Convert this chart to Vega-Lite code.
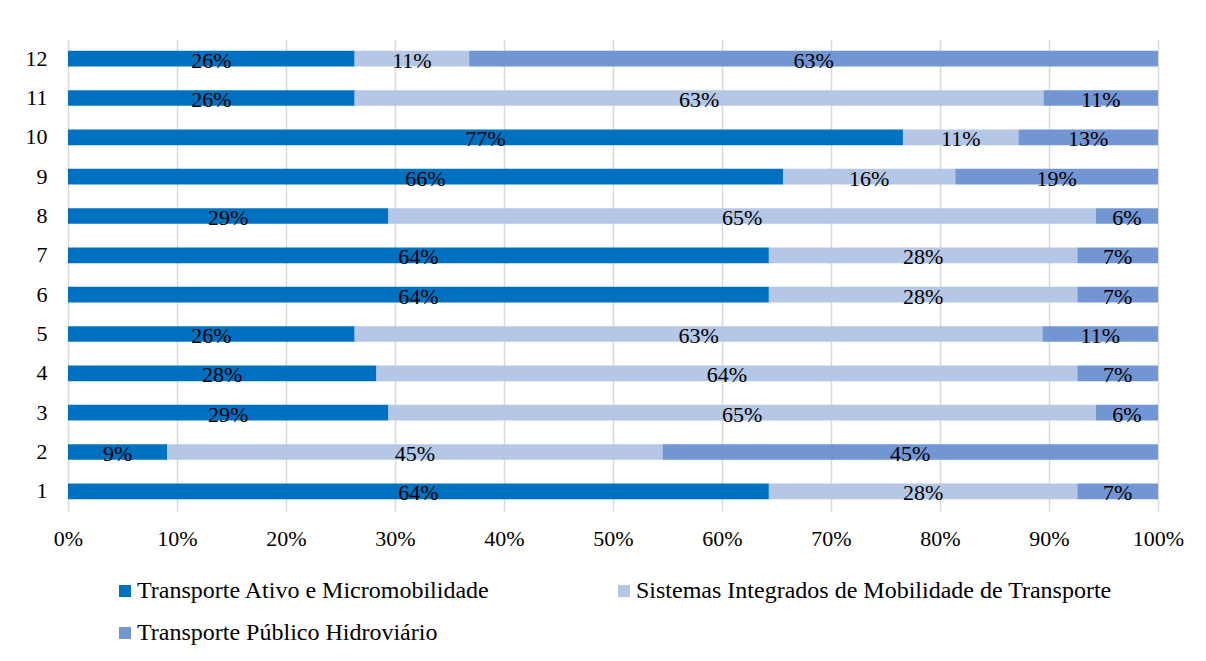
{
  "$schema": "https://vega.github.io/schema/vega-lite/v6.json",
  "width": 1090,
  "height": 472,
  "autosize": {"type": "none"},
  "padding": {"left": 68, "top": 39, "right": 48, "bottom": 150},
  "background": "white",
  "data": {
    "values": [
      {"row": 12, "k": 1, "serie": "Transporte Ativo e Micromobilidade", "value": 0.263},
      {"row": 12, "k": 2, "serie": "Sistemas Integrados de Mobilidade de Transporte", "value": 0.105},
      {"row": 12, "k": 3, "serie": "Transporte Público Hidroviário", "value": 0.632},
      {"row": 11, "k": 1, "serie": "Transporte Ativo e Micromobilidade", "value": 0.263},
      {"row": 11, "k": 2, "serie": "Sistemas Integrados de Mobilidade de Transporte", "value": 0.632},
      {"row": 11, "k": 3, "serie": "Transporte Público Hidroviário", "value": 0.105},
      {"row": 10, "k": 1, "serie": "Transporte Ativo e Micromobilidade", "value": 0.766},
      {"row": 10, "k": 2, "serie": "Sistemas Integrados de Mobilidade de Transporte", "value": 0.106},
      {"row": 10, "k": 3, "serie": "Transporte Público Hidroviário", "value": 0.128},
      {"row": 9, "k": 1, "serie": "Transporte Ativo e Micromobilidade", "value": 0.656},
      {"row": 9, "k": 2, "serie": "Sistemas Integrados de Mobilidade de Transporte", "value": 0.158},
      {"row": 9, "k": 3, "serie": "Transporte Público Hidroviário", "value": 0.186},
      {"row": 8, "k": 1, "serie": "Transporte Ativo e Micromobilidade", "value": 0.294},
      {"row": 8, "k": 2, "serie": "Sistemas Integrados de Mobilidade de Transporte", "value": 0.649},
      {"row": 8, "k": 3, "serie": "Transporte Público Hidroviário", "value": 0.057},
      {"row": 7, "k": 1, "serie": "Transporte Ativo e Micromobilidade", "value": 0.643},
      {"row": 7, "k": 2, "serie": "Sistemas Integrados de Mobilidade de Transporte", "value": 0.283},
      {"row": 7, "k": 3, "serie": "Transporte Público Hidroviário", "value": 0.074},
      {"row": 6, "k": 1, "serie": "Transporte Ativo e Micromobilidade", "value": 0.643},
      {"row": 6, "k": 2, "serie": "Sistemas Integrados de Mobilidade de Transporte", "value": 0.283},
      {"row": 6, "k": 3, "serie": "Transporte Público Hidroviário", "value": 0.074},
      {"row": 5, "k": 1, "serie": "Transporte Ativo e Micromobilidade", "value": 0.263},
      {"row": 5, "k": 2, "serie": "Sistemas Integrados de Mobilidade de Transporte", "value": 0.631},
      {"row": 5, "k": 3, "serie": "Transporte Público Hidroviário", "value": 0.106},
      {"row": 4, "k": 1, "serie": "Transporte Ativo e Micromobilidade", "value": 0.283},
      {"row": 4, "k": 2, "serie": "Sistemas Integrados de Mobilidade de Transporte", "value": 0.643},
      {"row": 4, "k": 3, "serie": "Transporte Público Hidroviário", "value": 0.074},
      {"row": 3, "k": 1, "serie": "Transporte Ativo e Micromobilidade", "value": 0.294},
      {"row": 3, "k": 2, "serie": "Sistemas Integrados de Mobilidade de Transporte", "value": 0.649},
      {"row": 3, "k": 3, "serie": "Transporte Público Hidroviário", "value": 0.057},
      {"row": 2, "k": 1, "serie": "Transporte Ativo e Micromobilidade", "value": 0.0909},
      {"row": 2, "k": 2, "serie": "Sistemas Integrados de Mobilidade de Transporte", "value": 0.4545},
      {"row": 2, "k": 3, "serie": "Transporte Público Hidroviário", "value": 0.4546},
      {"row": 1, "k": 1, "serie": "Transporte Ativo e Micromobilidade", "value": 0.643},
      {"row": 1, "k": 2, "serie": "Sistemas Integrados de Mobilidade de Transporte", "value": 0.283},
      {"row": 1, "k": 3, "serie": "Transporte Público Hidroviário", "value": 0.074}
    ]
  },
  "transform": [
    {"stack": "value", "groupby": ["row"], "sort": [{"field": "k", "order": "ascending"}], "as": ["v0", "v1"]},
    {"calculate": "(datum.v0 + datum.v1) / 2", "as": "mid"}
  ],
  "encoding": {
    "y": {
      "field": "row",
      "type": "ordinal",
      "scale": {"domain": [12, 11, 10, 9, 8, 7, 6, 5, 4, 3, 2, 1], "paddingInner": 0.6, "paddingOuter": 0.3},
      "axis": {"title": null, "ticks": false, "domain": false, "labelFont": "Liberation Serif", "labelFontSize": 22, "labelColor": "#000000", "labelPadding": 21}
    }
  },
  "layer": [
    {
      "mark": {"type": "bar"},
      "encoding": {
        "x": {
          "field": "v0",
          "type": "quantitative",
          "scale": {"domain": [0, 1], "nice": false},
          "axis": {"title": null, "format": ".0%", "values": [0, 0.1, 0.2, 0.3, 0.4, 0.5, 0.6, 0.7, 0.8, 0.9, 1], "grid": true, "gridColor": "#D9D9D9", "gridWidth": 1.5, "ticks": false, "domain": false, "labelFlush": false, "labelFont": "Liberation Serif", "labelFontSize": 22, "labelColor": "#000000", "labelPadding": 17}
        },
        "x2": {"field": "v1"},
        "color": {
          "field": "serie",
          "type": "nominal",
          "scale": {
            "domain": ["Transporte Ativo e Micromobilidade", "Sistemas Integrados de Mobilidade de Transporte", "Transporte Público Hidroviário"],
            "range": ["#0070C0", "#B4C7E7", "#7295D3"]
          },
          "legend": {
            "title": null,
            "orient": "none",
            "legendX": 45,
            "legendY": 540,
            "direction": "horizontal",
            "columns": 2,
            "columnPadding": 121,
            "rowPadding": 18,
            "symbolType": "square",
            "symbolSize": 144,
            "symbolStrokeWidth": 0,
            "labelFont": "Liberation Serif",
            "labelFontSize": 24,
            "labelColor": "#000000",
            "labelOffset": 0,
            "labelLimit": 700
          }
        }
      }
    },
    {
      "mark": {"type": "text", "font": "Liberation Serif", "fontSize": 22, "color": "#000000", "baseline": "middle", "dy": 2},
      "encoding": {
        "x": {"field": "mid", "type": "quantitative"},
        "text": {"field": "value", "type": "quantitative", "format": ".0%"}
      }
    }
  ],
  "config": {"view": {"stroke": null}}
}
